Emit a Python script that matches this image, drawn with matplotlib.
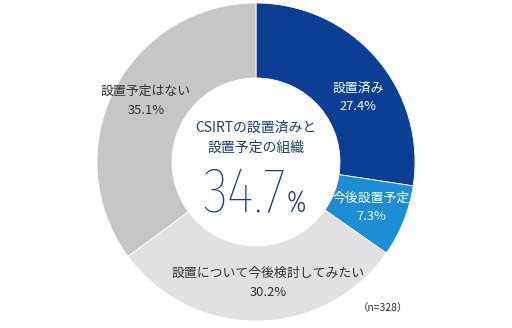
import matplotlib.pyplot as plt

plt.rcParams['font.family'] = ['Noto Sans CJK JP', 'DejaVu Sans']

labels = ['設置済み', '今後設置予定', '設置について今後検討してみたい', '設置予定はない']
values = [27.4, 7.3, 30.2, 35.1]
colors = ['#0a3f93', '#1b8ed6', '#e1e1e3', '#c6c6c8']
total_label = '34.7'
n_label = '（n=328）'

fig = plt.figure(figsize=(5.12, 3.28), dpi=100)
ax = fig.add_axes([0, 0, 1, 1])

ax.pie(values, colors=colors, startangle=90, counterclock=False,
       center=(256, 328 - 162), radius=159, frame=True,
       wedgeprops=dict(width=75, edgecolor='white', linewidth=0.6))
ax.set_xlim(0, 512)
ax.set_ylim(0, 328)
ax.axis('off')

# label positions in pixel coords (y from top)
pos = [(358, 88), (371, 198), (268, 273), (146, 91)]
tcol = ['white', 'white', '#333333', '#333333']
for lab, v, (x, y), c in zip(labels, values, pos, tcol):
    ax.text(x, 328 - y, lab, ha='center', va='center', fontsize=9.3, color=c)
    ax.text(x, 328 - y - 19, f'{v}%', ha='center', va='center', fontsize=9.3, color=c)

navy = '#1d3f73'
ax.text(256, 328 - 128, 'CSIRTの設置済みと', ha='center', va='center',
        fontsize=10, color=navy)
ax.text(256, 328 - 148, '設置予定の組織', ha='center', va='center',
        fontsize=10, color=navy)
cond = ['Fira Sans Extra Condensed', 'Saira ExtraCondensed', 'DejaVu Sans']
ax.text(286, 328 - 212, total_label, ha='right', va='baseline', fontsize=46,
        color=navy, family=cond, fontweight=200)
ax.text(287, 328 - 212, '%', ha='left', va='baseline', fontsize=21, color=navy,
        family=cond, fontweight=300)

ax.text(383, 328 - 308, n_label, ha='center', va='center', fontsize=7.5, color='#333333')

fig.savefig('out.png', dpi=100)
